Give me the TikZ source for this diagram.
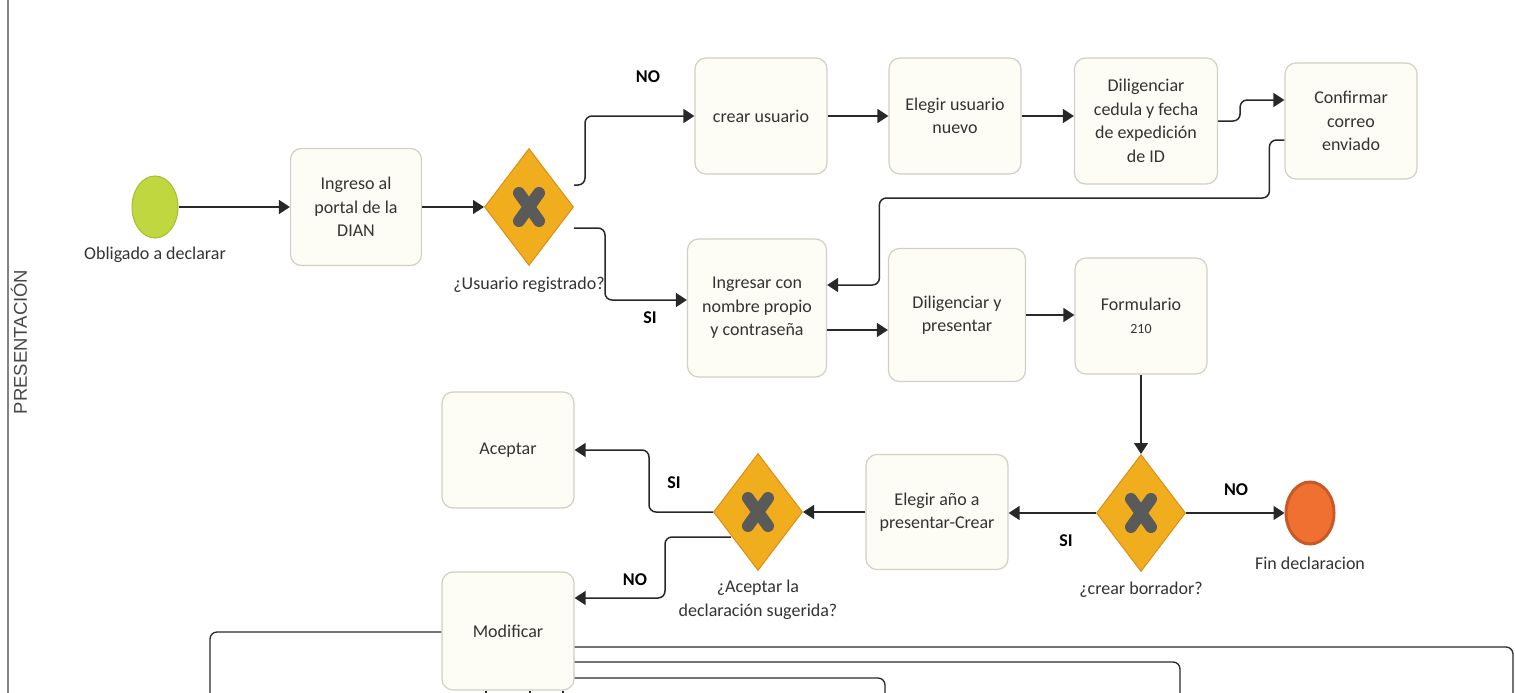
\documentclass[tikz,border=0pt]{standalone}
\usepackage{fontspec}
\setmainfont{Carlito}
\newfontfamily\lanefont{Liberation Sans}
\usetikzlibrary{shapes.geometric,arrows.meta,calc}
\definecolor{taskfill}{RGB}{253,253,245}
\definecolor{taskdraw}{RGB}{208,208,198}
\definecolor{gwfill}{RGB}{240,174,30}
\definecolor{gwdraw}{RGB}{222,140,20}
\definecolor{xcol}{RGB}{90,90,90}
\definecolor{startfill}{RGB}{193,215,63}
\definecolor{startdraw}{RGB}{165,190,50}
\definecolor{endfill}{RGB}{240,112,50}
\definecolor{enddraw}{RGB}{200,90,40}
\definecolor{txt}{RGB}{51,51,51}
\definecolor{lanecol}{RGB}{130,130,130}
\definecolor{linecol}{RGB}{40,40,40}
\begin{document}
\begin{tikzpicture}[x=1pt,y=-1pt,
  font=\fontsize{18}{23.5}\selectfont, text=txt,
  task/.style 2 args={draw=taskdraw,fill=taskfill,line width=1.2pt,rounded corners=11pt,
    inner sep=2pt,align=center,minimum width=#1,minimum height=#2},
  gw/.style={diamond,draw=gwdraw,fill=gwfill,line width=1pt,inner sep=0pt,
    minimum width=89pt,minimum height=117pt},
  xmark/.style={draw=xcol,line width=12pt,line cap=round},
  startev/.style={ellipse,draw=startdraw,fill=startfill,line width=1pt,
    minimum width=46pt,minimum height=62pt,inner sep=0pt},
  endev/.style={ellipse,draw=enddraw,fill=endfill,line width=3pt,
    minimum width=48pt,minimum height=62pt,inner sep=0pt},
  lbl/.style={align=center,inner sep=0pt},
  cond/.style={font=\fontsize{18}{20}\selectfont\bfseries,text=black,inner sep=0pt},
  flow/.style={draw=linecol,line width=1.5pt,rounded corners=7pt,
    -{Triangle[length=11pt,width=14pt]}},
  plain/.style={draw=linecol,line width=1.3pt,rounded corners=7pt}]
\useasboundingbox (0,0) rectangle (1515,693);
\clip (0,0) rectangle (1515,693);
\fill[white] (0,0) rectangle (1515,693);

% lane
\draw[lanecol,line width=1.5pt] (8,0) -- (8,693);
\node[rotate=90,font=\lanefont\fontsize{18.5}{20}\selectfont,text=txt!90] (lanel) at (19,342) {PRESENTACIÓN};

% nodes
\node[startev] (start) at (155,207) {};
\node[lbl] (startl) at (155,255) {Obligado a declarar};
\node[task={131pt}{117pt}] (ingreso) at (356,207) {Ingreso al\\portal de la\\DIAN};
\node[gw] (gw1) at (529,207) {};
\node[lbl] (gw1l) at (529,285) {¿Usuario registrado?};
\node[task={132pt}{116pt}] (crear) at (761,116) {crear usuario};
\node[task={132pt}{116pt}] (elegir) at (955,116) {Elegir usuario\\nuevo};
\node[task={143pt}{126pt}] (dilig) at (1146,121) {Diligenciar\\cedula y fecha\\de expedición\\de ID};
\node[task={132pt}{116pt}] (conf) at (1351,121) {Confirmar\\correo\\enviado};
\node[task={139pt}{138pt}] (ing) at (757,308) {Ingresar con\\nombre propio\\y contraseña};
\node[task={137pt}{133pt}] (dilp) at (957,315) {Diligenciar y\\presentar};
\node[task={132pt}{116pt}] (form) at (1141,316) {Formulario\\{\fontsize{14}{16}\selectfont 210}};
\node[gw] (gw2) at (1141,513) {};
\node[lbl] (gw2l) at (1141,590) {¿crear borrador?};
\node[endev] (fin) at (1310,513) {};
\node[lbl] (finl) at (1310,563) {Fin declaracion};
\node[task={142pt}{115pt}] (ano) at (937,512) {Elegir año a\\presentar-Crear};
\node[gw] (gw3) at (758,512) {};
\node[lbl] (gw3l) at (758,600) {¿Aceptar la\\declaración sugerida?};
\node[task={132pt}{116pt}] (acep) at (508,450) {Aceptar};
\node[task={132pt}{118pt}] (mod) at (508,631) {Modificar};

% gateway marks
\foreach \g in {gw1,gw2,gw3}{
  \draw[xmark] ([shift={(-10pt,14pt)}]\g.center) -- ([shift={(10pt,-14pt)}]\g.center);
  \draw[xmark] ([shift={(10pt,14pt)}]\g.center) -- ([shift={(-10pt,-14pt)}]\g.center);
}

% connectors
\draw[flow] (start) -- (ingreso);
\draw[flow] (ingreso) -- (gw1);
\draw[flow] ([yshift=22pt]gw1.east) -- ++(11,0) |- (crear.west);
\draw[flow] ([yshift=-21pt]gw1.east) -- ++(31,0) |- ([yshift=8pt]ing.west);
\draw[flow] (crear) -- (elegir);
\draw[flow] (elegir.east) -- (elegir.east -| dilig.west);
\draw[flow] (dilig.east) -- ++(22,0) |- ([yshift=21pt]conf.west);
\draw[flow] ([yshift=-19pt]conf.west) -- ++(-15,0) -- ++(0,58) -- ++(-390,0) |- ([yshift=23pt]ing.east);
\draw[flow] ([yshift=-22pt]ing.east) -- ([yshift=-15pt]dilp.west);
\draw[flow] (dilp.east) -- (dilp.east -| form.west);
\draw[flow] (form.south) -- (gw2.north);
\draw[flow] (gw2.east) -- (fin.west);
\draw[flow] (gw2.west) -- (gw2.west -| ano.east);
\draw[flow] (ano.west) -- (gw3.east);
\draw[flow] (gw3.west) -- ++(-64,0) |- (acep.east);
\draw[flow] ([shift={(-27pt,-25pt)}]gw3.center) -- ++(-66,0) |- ([yshift=33pt]mod.east);

% off-page connectors
\coordinate (off1) at (210,705);
\coordinate (off2) at (1513,705);
\coordinate (off3) at (1180,705);
\coordinate (off4) at (885,705);
\draw[plain] ([yshift=-1pt]mod.west) -| (off1);
\draw[plain] ([yshift=-16pt]mod.east) -| (off2);
\draw[plain] ([yshift=-31pt]mod.east) -| (off3);
\draw[plain] ([yshift=-47pt]mod.east) -| (off4);
\draw[plain] ([xshift=-22pt]mod.south) -- ++(0,20);
\draw[plain] ([xshift=22pt]mod.south) -- ++(0,20);
\draw[plain] ([xshift=55pt]mod.south) -- ++(0,20);

% condition labels
\node[cond] (no1) at (648,77) {NO};
\node[cond] (si1) at (650,318) {SI};
\node[cond] (no2) at (1236,490) {NO};
\node[cond] (si2) at (1066,541) {SI};
\node[cond] (si3) at (674,483) {SI};
\node[cond] (no3) at (635,580) {NO};
\end{tikzpicture}
\end{document}
